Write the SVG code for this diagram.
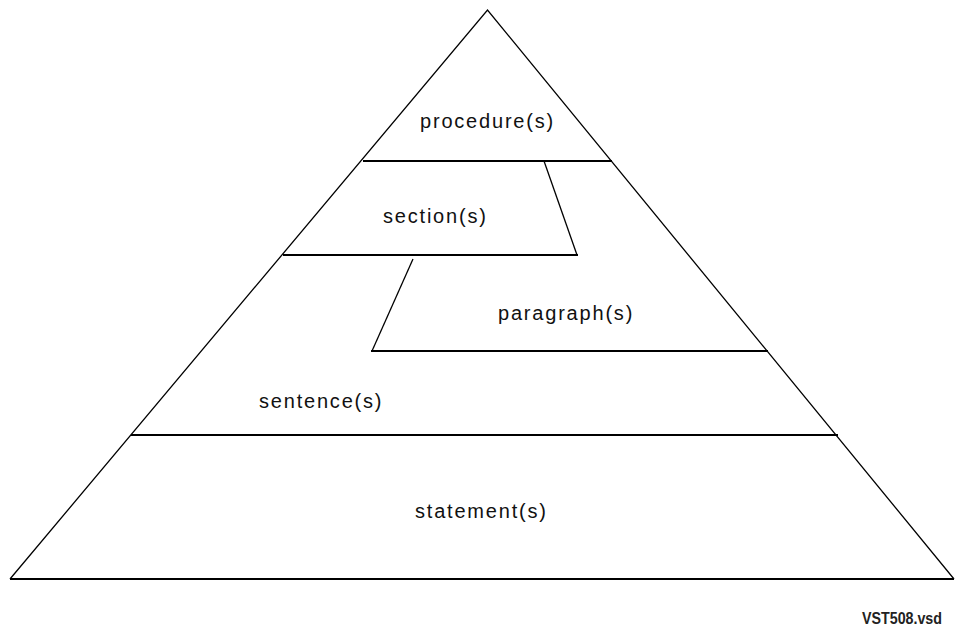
<svg xmlns="http://www.w3.org/2000/svg" width="958" height="629" viewBox="0 0 958 629">
  <style>
    .edge { fill: none; stroke: #000; stroke-width: 1.3; stroke-linejoin: miter; }
    .rule { fill: none; stroke: #000; stroke-width: 2; }
    .label { font-family: "Liberation Sans", Arial, sans-serif; font-size: 20px; letter-spacing: 1.8px; fill: #111; }
    .tag { font-family: "Liberation Sans", Arial, sans-serif; font-size: 16px; font-weight: bold; fill: #222; }
  </style>
  <rect width="958" height="629" fill="#fff"/>

  <!-- pyramid outline -->
  <g id="pyramid">
    <polyline class="edge" points="10,579 487.5,10 954,579"/>
    <line class="rule" x1="10" y1="579" x2="954" y2="579"/>
  </g>

  <!-- tier dividers -->
  <g id="dividers">
    <line class="rule" x1="363" y1="161" x2="612" y2="161"/>
    <polyline class="edge" points="544,161 577,255"/>
    <line class="rule" x1="283" y1="255" x2="578" y2="255"/>
    <polyline class="edge" points="413,259 372,351"/>
    <line class="rule" x1="371" y1="351" x2="768" y2="351"/>
    <line class="rule" x1="131" y1="435" x2="838" y2="435"/>
  </g>

  <g id="procedure"><text class="label" x="420" y="128">procedure(s)</text></g>
  <g id="section"><text class="label" x="383" y="223">section(s)</text></g>
  <g id="paragraph"><text class="label" x="498" y="320">paragraph(s)</text></g>
  <g id="sentence"><text class="label" x="259" y="408">sentence(s)</text></g>
  <g id="statement"><text class="label" x="415" y="518">statement(s)</text></g>

  <text class="tag" x="862" y="624" textLength="80" lengthAdjust="spacingAndGlyphs">VST508.vsd</text>
</svg>
